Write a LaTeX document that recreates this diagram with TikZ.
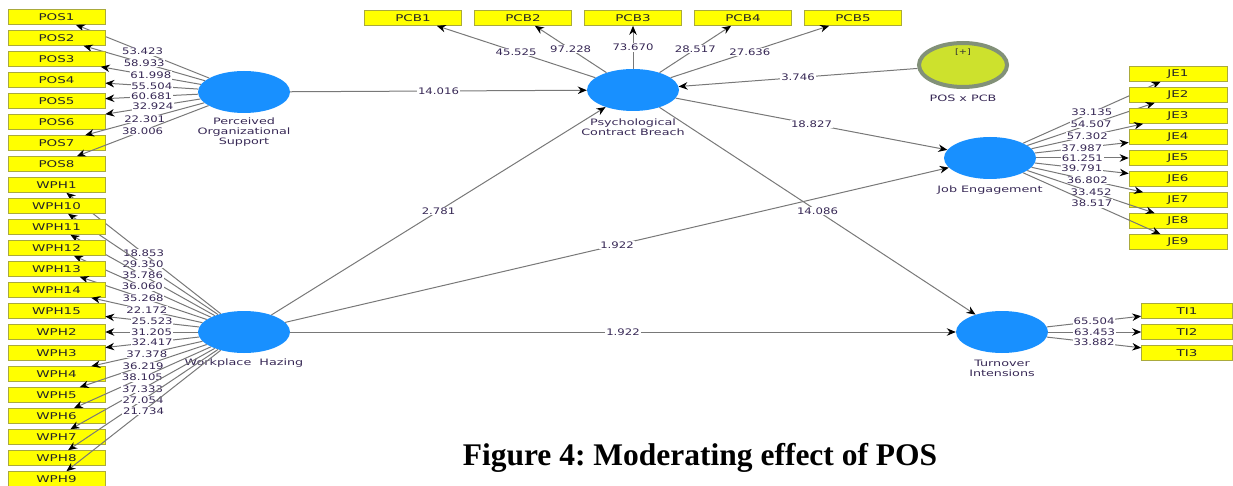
\documentclass[tikz,border=0pt]{standalone}
\usepackage{fontspec}
\setmainfont{DejaVu Sans}
\newfontfamily\lab[FakeStretch=1.3]{DejaVu Sans}
\newfontfamily\wlab[FakeStretch=1.45]{DejaVu Sans}
\newfontfamily\titlefont{Liberation Serif}
\usetikzlibrary{shapes.geometric,arrows.meta}
\definecolor{lvblue}{RGB}{24,144,255}
\definecolor{indyel}{RGB}{255,255,0}
\definecolor{indborder}{RGB}{170,170,60}
\definecolor{valtext}{RGB}{55,40,85}
\definecolor{linegray}{RGB}{120,120,120}
\definecolor{modfill}{RGB}{205,225,45}
\definecolor{modborder}{RGB}{130,145,120}
\begin{document}
\begin{tikzpicture}[x=1pt,y=-1pt,
 ind/.style={rectangle,draw=indborder,fill=indyel,line width=0.6pt,minimum width=97pt,minimum height=15pt,inner sep=0pt,font=\wlab\fontsize{9.3}{9.5}\selectfont,text=black!85},
 lv/.style={ellipse,fill=lvblue,minimum width=92pt,minimum height=42pt,inner sep=0pt},
 lvlab/.style={align=center,font=\wlab\fontsize{8.8}{10}\selectfont,text=valtext,inner sep=0pt},
 conn/.style={draw=linegray,line width=1pt,-{Stealth[length=9pt,width=7.5pt,color=black]}},
 val/.style={fill=white,inner sep=0.8pt,font=\lab\fontsize{9}{9}\selectfont,text=valtext},
]
\useasboundingbox (0,0) rectangle (1233,486);

% latent variables
\node[lv] (pos) at (244,92) {};
\node[lv] (pcb) at (633,90) {};
\node[lv] (wph) at (244,332) {};
\node[lv] (je) at (990,158) {};
\node[lv] (ti) at (1002,332) {};
\node[ellipse,fill=modfill,draw=modborder,line width=4pt,minimum width=88pt,minimum height=44pt,inner sep=0pt] (mod) at (963,65) {};
\node[font=\lab\fontsize{7.5}{8}\selectfont,text=black!80,inner sep=0pt] (modplus) at (963,52) {[+]};

% latent labels
\node[lvlab] (poslab) at (244,132) {Perceived\\Organizational\\Support};
\node[lvlab] (pcblab) at (633,127) {Psychological\\Contract Breach};
\node[lvlab] (modlab) at (963,98) {POS x PCB};
\node[lvlab] (jelab) at (990,190) {Job Engagement};
\node[lvlab] (tilab) at (1002,368) {Turnover\\Intensions};
\node[lvlab] (wphlab) at (244,363) {Workplace\ \ Hazing};

% left indicators
\foreach \n/\v [count=\i from 0] in {POS1/53.423,POS2/58.933,POS3/61.998,POS4/55.504,POS5/60.681,POS6/32.924,POS7/22.301,POS8/38.006}{
  \node[ind] (\n) at (56.5,{17+21*\i}) {\n};
  \draw[conn] (pos) -- node[val]{\v} (\n);
}
\foreach \n/\v [count=\i from 8] in {WPH1/18.853,WPH10/29.350,WPH11/35.786,WPH12/36.060,WPH13/35.268,WPH14/22.172,WPH15/25.523,WPH2/31.205,WPH3/32.417,WPH4/37.378,WPH5/36.219,WPH6/38.105,WPH7/37.333,WPH8/27.054,WPH9/21.734}{
  \node[ind] (\n) at (56.5,{17+21*\i}) {\n};
  \draw[conn] (wph) -- node[val]{\v} (\n);
}
% PCB indicators
\foreach \n/\v [count=\i from 0] in {PCB1/45.525,PCB2/97.228,PCB3/73.670,PCB4/28.517,PCB5/27.636}{
  \node[ind] (\n) at ({413+110*\i},18) {\n};
  \draw[conn] (pcb) -- node[val]{\v} (\n);
}
% JE indicators
\foreach \n/\v [count=\i from 0] in {JE1/33.135,JE2/54.507,JE3/57.302,JE4/37.987,JE5/61.251,JE6/39.791,JE7/36.802,JE8/33.452,JE9/38.517}{
  \node[ind,minimum width=98pt] (\n) at (1178,{74+21*\i}) {\n};
  \draw[conn] (je) -- node[val]{\v} (\n);
}
% TI indicators
\foreach \n/\v [count=\i from 0] in {TI1/65.504,TI2/63.453,TI3/33.882}{
  \node[ind,minimum width=91pt] (\n) at (1187,{311+21*\i}) {\n};
  \draw[conn] (ti) -- node[val]{\v} (\n);
}

% structural paths
\draw[conn] (pos) -- node[val]{14.016} (pcb);
\draw[conn] (wph) -- node[val]{2.781} (pcb);
\draw[conn] (wph) -- node[val]{1.922} (je);
\draw[conn] (wph) -- node[val]{1.922} (ti);
\draw[conn] (pcb) -- node[val]{18.827} (je);
\draw[conn] (pcb) -- node[val]{14.086} (ti);
\draw[conn] (mod) -- node[val]{3.746} (pcb);

% caption
\node[font=\titlefont\bfseries\fontsize{31.5}{36}\selectfont,anchor=base,inner sep=0pt] (title) at (700,465) {\frenchspacing Figure 4: Moderating effect of POS};
\end{tikzpicture}
\end{document}
